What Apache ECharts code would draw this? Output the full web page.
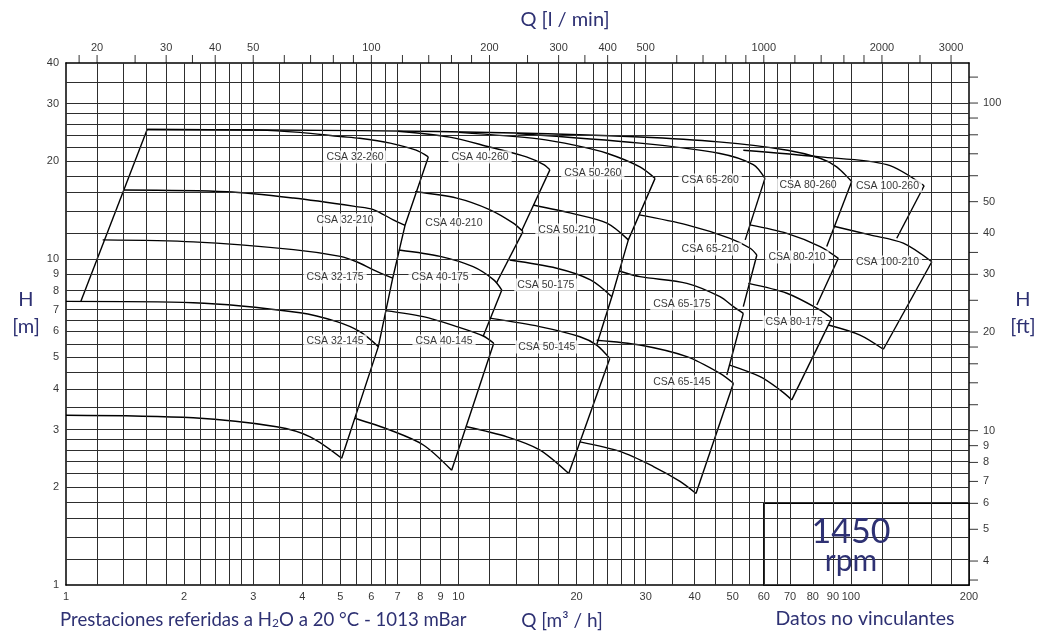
<!DOCTYPE html>
<html lang="es">
<head>
<meta charset="UTF-8">
<title>CSA 1450 rpm</title>
<script src="https://cdn.jsdelivr.net/npm/echarts@6.0.0/dist/echarts.min.js"></script>
<style>
  html, body { margin: 0; padding: 0; background: #fff; }
  #chart { width: 1039px; height: 635px; }
</style>
</head>
<body>
<div id="chart"></div>
<script>
// ---- ejes y rejilla ----
const qTicks = [1, 2, 3, 4, 5, 6, 7, 8, 9, 10, 20, 30, 40, 50, 60, 70, 80, 90, 100, 200];
const hTicks = [1, 2, 3, 4, 5, 6, 7, 8, 9, 10, 20, 30, 40];
const lminLabels = [20, 30, 40, 50, 100, 200, 300, 400, 500, 1000, 2000, 3000];
const lminTicks = [18, 20, 25, 30, 35, 40, 50, 60, 70, 80, 90, 100, 120, 140, 160, 180, 200, 250, 300, 350, 400, 500, 600, 700, 800, 900, 1000, 1200, 1400, 1600, 1800, 2000, 2500, 3000];
const ftLabels = [4, 5, 6, 7, 8, 9, 10, 20, 30, 40, 50, 100];
const ftTicks = [3.5, 4, 5, 6, 7, 8, 9, 10, 12, 14, 16, 18, 20, 25, 30, 35, 40, 50, 60, 70, 80, 90, 100, 120];
const qGrid = [1.2, 1.4, 1.6, 1.8, 2, 2.2, 2.4, 2.6, 2.8, 3, 3.5, 4, 4.5, 5, 5.5, 6, 6.5, 7, 8, 9, 10, 12, 14, 16, 18, 20, 22, 24, 26, 28, 30, 35, 40, 45, 50, 55, 60, 65, 70, 80, 90, 100, 120, 140, 160, 180];
const hGrid = [1.2, 1.4, 1.6, 1.8, 2, 2.2, 2.4, 2.6, 2.8, 3, 3.5, 4, 4.5, 5, 5.5, 6, 6.5, 7, 8, 9, 10, 12, 14, 16, 18, 20, 22, 24, 26, 28, 30, 35];

// ---- curvas [Q m3/h, H m] ----
const cTop = [[1.61, 25.0], [5.6, 24.8], [14, 24.4], [29, 23.7], [46, 22.9], [69, 21.6], [83.5, 20.4], [92, 19.2], [100.5, 17.3]];
const c32_260 = [[1.61, 25.0], [3.1, 24.9], [3.95, 24.5], [5.0, 23.8], [5.6, 23.5], [6.7, 22.7], [7.8, 21.6], [8.38, 20.6]];
const c32_210 = [[1.4, 16.3], [2.57, 16.1], [3.8, 15.4], [5.5, 14.5], [6.07, 14.2], [6.82, 13.2], [7.31, 12.7]];
const c32_175 = [[1.24, 11.46], [2.11, 11.3], [3.8, 10.7], [5.0, 10.2], [5.5, 9.82], [6.07, 9.27], [6.8, 8.74]];
const c32_145 = [[1, 7.42], [2.11, 7.35], [3.95, 6.85], [4.9, 6.43], [5.61, 5.99], [6.25, 5.39]];
const c32_min = [[1, 3.32], [2.11, 3.26], [3.44, 3.06], [4.19, 2.85], [5.04, 2.45]];
const c40_260 = [[7, 24.7], [9.5, 23.7], [12.0, 22.1], [14.9, 20.6], [16.5, 19.5], [17.1, 18.8]];
const c40_210 = [[7.75, 16.1], [9.9, 15.4], [12.0, 14.2], [13.8, 12.9], [14.6, 12.15]];
const c40_175 = [[7.05, 10.67], [8.98, 10.2], [10.9, 9.48], [12.3, 8.64], [12.9, 8.04]];
const c40_145 = [[6.5, 6.95], [8.14, 6.66], [9.9, 6.21], [11.57, 5.81], [12.3, 5.52]];
const c40_min = [[5.45, 3.25], [6.69, 2.99], [8.14, 2.69], [9.61, 2.25]];
const c50_260 = [[10, 24.5], [16, 23.4], [20, 22.3], [24, 21.1], [29, 19.2], [31.7, 17.7]];
const c50_210 = [[15.5, 14.67], [19.6, 13.8], [23.9, 12.9], [27.1, 11.46]];
const c50_175 = [[13.5, 9.94], [17.8, 9.38], [21.7, 8.64], [24.6, 7.67]];
const c50_145 = [[12.0, 6.59], [16.1, 6.21], [20.4, 5.78], [22.5, 5.45], [24.3, 4.96]];
const c50_min = [[10.5, 3.06], [13.3, 2.85], [16.1, 2.6], [19.1, 2.2]];
const c65_260 = [[14, 24.3], [29, 22.7], [46.4, 21.1], [56.4, 19.5], [60.4, 17.7]];
const c65_210 = [[28.9, 13.67], [38.2, 12.74], [49.2, 11.59], [55.4, 10.8], [57.6, 10.3]];
const c65_175 = [[25.7, 9.2], [29.0, 8.84], [38.2, 8.43], [46.4, 7.67], [50.2, 7.15], [53.2, 6.82]];
const c65_145 = [[22.5, 5.64], [29.0, 5.45], [38.2, 5.02], [46.4, 4.46], [50.2, 4.16]];
const c65_min = [[20.4, 2.75], [25.8, 2.57], [31.4, 2.31], [36.7, 2.08], [40.3, 1.91]];
const c80_210 = [[55.3, 12.74], [68.7, 12.0], [83.5, 10.93], [92.9, 10.06]];
const c80_175 = [[54.8, 8.43], [68.7, 7.86], [83.5, 6.98], [89.4, 6.59]];
const c80_min = [[49.1, 4.73], [58.7, 4.36], [66, 3.97], [70.7, 3.7]];
const c100_260 = [[53.2, 21.6], [83.5, 20.6], [123.5, 19.5], [153.7, 16.8]];
const c100_210 = [[91, 12.6], [111.9, 11.87], [136, 11.2], [160.8, 9.82]];
const c100_min = [[87.6, 6.28], [105.5, 5.85], [121, 5.29]];

// ---- limites (rectas) ----
const left32 = [[1.09, 7.4], [1.61, 25.0]];
const b32 = [[5.04, 2.45], [6.25, 5.39], [6.8, 8.74], [7.31, 12.7], [8.38, 20.6]];
const b40a = [[9.61, 2.25], [12.3, 5.52]];
const b40b = [[11.57, 5.81], [12.9, 8.04]];
const b40c = [[12.5, 8.45], [14.6, 12.15]];
const b40d = [[14.5, 12.25], [17.1, 18.8]];
const b50a = [[19.1, 2.2], [24.3, 4.96]];
const b50b = [[22.5, 5.45], [24.6, 7.67]];
const b50c = [[24.6, 7.67], [27.1, 11.46], [31.7, 17.7]];
const b65a = [[40.3, 1.91], [50.2, 4.16]];
const b65b = [[48.3, 4.41], [53.2, 6.82]];
const b65c = [[53.2, 7.15], [57.6, 10.3]];
const b65d = [[53.8, 11.46], [60.4, 17.7]];
const b80a = [[70.7, 3.7], [89.4, 6.59]];
const b80b = [[81.9, 7.23], [92.9, 10.06]];
const b80c = [[86.8, 10.93], [100.5, 17.3]];
const b100a = [[121, 5.29], [160.8, 9.82]];
const b100b = [[130.9, 11.59], [153.7, 16.8]];

// ---- etiquetas de bombas ----
const pumpNames = ['CSA 32-260', 'CSA 40-260', 'CSA 50-260', 'CSA 65-260', 'CSA 80-260', 'CSA 100-260',
  'CSA 32-210', 'CSA 40-210', 'CSA 50-210', 'CSA 65-210', 'CSA 80-210', 'CSA 100-210',
  'CSA 32-175', 'CSA 40-175', 'CSA 50-175', 'CSA 65-175', 'CSA 80-175',
  'CSA 32-145', 'CSA 40-145', 'CSA 50-145', 'CSA 65-145'];
const pumpQ = [5.45, 11.35, 22.0, 43.8, 77.8, 124, 5.14, 9.74, 18.9, 43.8, 72.9, 124, 4.85, 8.98, 16.7, 37.1, 71.7, 4.85, 9.19, 16.8, 37.1];
const pumpH = [20.6, 20.6, 18.4, 17.5, 16.9, 16.8, 13.2, 12.9, 12.3, 10.75, 10.15, 9.8, 8.82, 8.82, 8.33, 7.29, 6.42, 5.61, 5.61, 5.38, 4.2];

const curves = [cTop, c32_260, c32_210, c32_175, c32_145, c32_min, c40_260, c40_210, c40_175, c40_145, c40_min,
  c50_260, c50_210, c50_175, c50_145, c50_min, c65_260, c65_210, c65_175, c65_145, c65_min,
  c80_210, c80_175, c80_min, c100_260, c100_210, c100_min];
const edges = [left32, b32, b40a, b40b, b40c, b40d, b50a, b50b, b50c, b65a, b65b, b65c, b65d, b80a, b80b, b80c, b100a, b100b];

const tickFont = { fontFamily: 'Liberation Sans, Arial, sans-serif', fontSize: 11, color: '#000' };
const navy = '#2e3173';
const titleFont = 'Lato, "Open Sans", sans-serif';

const chart = echarts.init(document.getElementById('chart'));

const axisBase = {
  type: 'log', logBase: 10,
  axisLine: { show: true, onZero: false, lineStyle: { color: '#000', width: 1.5 } },
  axisTick: { show: false }, axisLabel: { show: false }, splitLine: { show: false }
};

const series = [];

// rejilla
series.push({
  type: 'line', data: [], symbol: 'none', silent: true, z: 1,
  markLine: {
    silent: true, symbol: ['none', 'none'], animation: false,
    label: { show: false },
    lineStyle: { color: '#2e2e2e', width: 1, type: 'solid' },
    data: qGrid.map(v => ({ xAxis: v })).concat(hGrid.map(v => ({ yAxis: v })))
  }
});

curves.forEach(c => series.push({
  type: 'line', data: c, symbol: 'none', smooth: 0.3, silent: true, z: 3,
  lineStyle: { color: '#000', width: 1.4 }
}));
edges.forEach(c => series.push({
  type: 'line', data: c, symbol: 'none', smooth: false, silent: true, z: 3,
  lineStyle: { color: '#000', width: 1.4 }
}));

// etiquetas de bombas
series.push({
  type: 'scatter', symbolSize: 0, silent: true, z: 5, clip: false,
  data: pumpNames.map((n, i) => ({ value: [pumpQ[i], pumpH[i]], name: n })),
  label: {
    show: true, position: 'inside', formatter: p => p.name,
    fontFamily: 'Liberation Sans, Arial, sans-serif', fontSize: 10.5, color: '#000',
    backgroundColor: '#fff', padding: [1, 3]
  }
});

// caja 1450 rpm (de 60 m3/h a la derecha, por debajo de 6 ft)
series.push({
  type: 'line', xAxisIndex: 0, yAxisIndex: 1, data: [], symbol: 'none', silent: true, z: 6,
  markArea: {
    silent: true, label: { show: false },
    itemStyle: { color: '#fff', borderColor: '#000', borderWidth: 1.5 },
    data: [[{ coord: [60, 6] }, { coord: [200, 3.38] }]]
  }
});

// etiquetas eje inferior
series.push({
  type: 'scatter', symbolSize: 0, silent: true, z: 7, clip: false,
  data: qTicks.map(v => [v, 1]),
  label: { show: true, position: 'bottom', distance: 6, formatter: p => p.value[0], ...tickFont }
});
// etiquetas eje izquierdo
series.push({
  type: 'scatter', symbolSize: 0, silent: true, z: 7, clip: false,
  data: hTicks.map(v => [1, v]),
  label: { show: true, position: 'left', distance: 7, formatter: p => p.value[1], ...tickFont }
});
// eje superior l/min
series.push({
  type: 'scatter', xAxisIndex: 1, yAxisIndex: 0, symbol: 'rect', symbolSize: [1, 8], symbolOffset: [0, -4],
  itemStyle: { color: '#000' }, silent: true, z: 7, clip: false,
  data: lminTicks.map(v => [v, 40])
});
series.push({
  type: 'scatter', xAxisIndex: 1, yAxisIndex: 0, symbolSize: 0, silent: true, z: 7, clip: false,
  data: lminLabels.map(v => [v, 40]),
  label: { show: true, position: 'top', distance: 10, formatter: p => p.value[0], ...tickFont }
});
// eje derecho ft
series.push({
  type: 'scatter', xAxisIndex: 0, yAxisIndex: 1, symbol: 'rect', symbolSize: [9, 1], symbolOffset: [4.5, 0],
  itemStyle: { color: '#000' }, silent: true, z: 7, clip: false,
  data: ftTicks.map(v => [200, v])
});
series.push({
  type: 'scatter', xAxisIndex: 0, yAxisIndex: 1, symbolSize: 0, silent: true, z: 7, clip: false,
  data: ftLabels.map(v => [200, v]),
  label: { show: true, position: 'right', distance: 14, formatter: p => p.value[1], ...tickFont }
});

const txt = (x, y, text, size, extra) => ({
  type: 'text', x, y, z: 10,
  style: Object.assign({ text, font: size + 'px ' + titleFont, fill: navy, textAlign: 'center', textVerticalAlign: 'middle', align: 'center', verticalAlign: 'middle' }, extra || {})
});

chart.setOption({
  animation: false,
  backgroundColor: '#fff',
  grid: { left: 66, right: 70, top: 63, bottom: 50, containLabel: false },
  xAxis: [
    Object.assign({}, axisBase, { position: 'bottom', min: 1, max: 200 }),
    Object.assign({}, axisBase, { position: 'top', min: 1000 / 60, max: 200 * 1000 / 60 })
  ],
  yAxis: [
    Object.assign({}, axisBase, { position: 'left', min: 1, max: 40 }),
    Object.assign({}, axisBase, { position: 'right', min: 3.38, max: 132.5 })
  ],
  series,
  graphic: [
    txt(565, 20, 'Q [l / min]', 20),
    txt(26, 300, 'H', 20),
    txt(26, 327, '[m]', 20),
    txt(1023, 300, 'H', 20),
    txt(1023, 327, '[ft]', 20),
    {
      type: 'text', x: 60, y: 620, z: 10,
      style: {
        text: 'Prestaciones referidas a H{s|2}O a 20 °C - 1013 mBar',
        font: '18.6px ' + titleFont, fill: navy, textVerticalAlign: 'middle', verticalAlign: 'middle',
        rich: { s: { fontSize: 12, fontFamily: titleFont, fill: navy, color: navy, verticalAlign: 'bottom', lineHeight: 12, padding: [12, 0, 0, 0] } }
      }
    },
    txt(562, 621, 'Q [m³ / h]', 19),
    txt(865, 619, 'Datos no vinculantes', 19.5),
    txt(851, 532, '1450', 34),
    txt(851, 561, 'rpm', 30)
  ]
});
</script>
</body>
</html>
